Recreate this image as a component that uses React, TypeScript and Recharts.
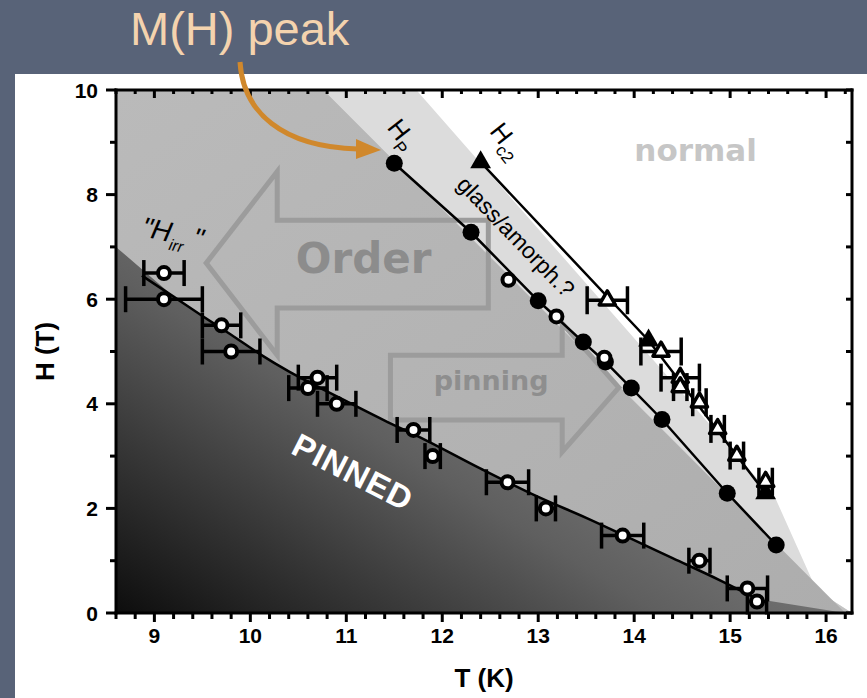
import {
  ComposedChart,
  XAxis,
  YAxis,
  Scatter,
  Line,
  Area,
  ErrorBar,
  ReferenceArea,
  ReferenceDot,
} from "recharts";

const T_MIN = 8.6;
const T_MAX = 16.27;

const xTicks = [
  8.6, 8.8, 9, 9.2, 9.4, 9.6, 9.8, 10, 10.2, 10.4, 10.6, 10.8, 11, 11.2, 11.4,
  11.6, 11.8, 12, 12.2, 12.4, 12.6, 12.8, 13, 13.2, 13.4, 13.6, 13.8, 14, 14.2,
  14.4, 14.6, 14.8, 15, 15.2, 15.4, 15.6, 15.8, 16, 16.2,
];
const yTicks = [0, 1, 2, 3, 4, 5, 6, 7, 8, 9, 10];

// "H_irr" open circles with horizontal error bars
const irrT = [9.1, 9.1, 9.7, 9.8, 10.7, 10.6, 10.9, 11.7, 11.9, 12.68, 13.08, 13.88, 14.68, 15.18, 15.28];
const irrH = [6.5, 6.0, 5.5, 5.0, 4.5, 4.3, 4.0, 3.5, 3.0, 2.5, 2.0, 1.48, 1.0, 0.47, 0.22];
const irrErr = [0.21, 0.4, 0.2, 0.3, 0.2, 0.2, 0.2, 0.17, 0.08, 0.22, 0.1, 0.22, 0.11, 0.21, 0.1];

// guide line through the H_irr points
const irrFitT = [8.87, 9.2, 9.5, 9.8, 10.1, 10.4, 10.7, 11.0, 11.4, 11.8, 12.4, 13.0, 13.5, 13.9, 14.4, 14.9, 15.28];
const irrFitH = [6.45, 6.05, 5.68, 5.32, 4.95, 4.62, 4.33, 4.05, 3.68, 3.33, 2.76, 2.22, 1.82, 1.48, 1.05, 0.62, 0.27];

// H_p (M(H) peak), filled circles
const hpT = [11.5, 12.3, 13.0, 13.47, 13.7, 13.97, 14.29, 14.97, 15.48];
const hpH = [8.6, 7.28, 5.97, 5.18, 4.8, 4.3, 3.7, 2.29, 1.3];
// open circles lying on H_p
const hpOpenT = [12.69, 13.19, 13.69];
const hpOpenH = [6.37, 5.67, 4.88];

// H_c2, filled and open triangles
const hc2T = [12.4, 14.15, 15.37];
const hc2H = [8.62, 5.21, 2.29];
const hc2OpenT = [13.72, 14.28, 14.48, 14.48, 14.68, 14.87, 15.07, 15.37];
const hc2OpenH = [5.98, 5.0, 4.5, 4.32, 4.03, 3.52, 3.01, 2.51];
const hc2OpenErr = [0.21, 0.21, 0.2, 0.07, 0.07, 0.07, 0.07, 0.07];

// upper edges of the shaded phase regions
const glassEdgeT = [8.6, 11.73, 15.48, 15.9, 16.27];
const glassEdgeH = [10, 10, 2.16, 0.44, 0];
const tailEdgeT = [8.6, 10.76, 15.48, 15.8, 16.27];
const tailEdgeH = [10, 10, 1.33, 0.55, 0];
const orderEdgeT = [8.6, 10.76, 16.2];
const orderEdgeH = [10, 10, 0];
const pinnedEdgeT = [8.6, 9.2, 9.5, 9.8, 10.1, 10.4, 10.7, 11.0, 11.4, 11.8, 12.4, 13.0, 13.5, 13.9, 14.4, 14.9, 15.28, 16.1, 16.27];
const pinnedEdgeH = [7.0, 6.05, 5.68, 5.32, 4.95, 4.62, 4.33, 4.05, 3.68, 3.33, 2.76, 2.22, 1.82, 1.48, 1.05, 0.62, 0.27, 0.03, 0];

// outline arrows (T, H corners)
const orderArrow = [[9.54, 6.69], [10.28, 8.44], [10.28, 7.51], [12.48, 7.51], [12.48, 5.83], [10.28, 5.83], [10.28, 4.93]];
const pinningArrow = [[13.84, 4.31], [13.25, 5.54], [13.25, 4.93], [11.46, 4.93], [11.46, 3.69], [13.25, 3.69], [13.25, 3.08]];

const FONT = '"Liberation Sans", Arial, sans-serif';
const WIDE = '"DejaVu Sans", Verdana, sans-serif';

const rows = (ts: number[], hs: number[], es?: number[]) =>
  ts.map((T, i) => (es ? { T, H: hs[i], e: es[i] } : { T, H: hs[i] }));

const isInt = (v: number) => Math.abs(v - Math.round(v)) < 1e-6;

const BottomTick = (p: any) => {
  const v = p.payload.value;
  const major = isInt(v);
  return (
    <g>
      <line x1={p.x} y1={p.y} x2={p.x} y2={p.y + (major ? 9 : 6)} stroke="#000" strokeWidth={3} />
      {major && (
        <text x={p.x} y={p.y + 30} textAnchor="middle" fontSize={21} fontWeight="bold" fontFamily={FONT} fill="#000">
          {Math.round(v)}
        </text>
      )}
    </g>
  );
};

const TopTick = (p: any) => {
  const major = isInt(p.payload.value);
  return <line x1={p.x} y1={p.y} x2={p.x} y2={p.y + (major ? 8 : 4)} stroke="#000" strokeWidth={3} />;
};

const LeftTick = (p: any) => {
  const v = p.payload.value;
  const major = v % 2 === 0;
  return (
    <g>
      <line x1={p.x} y1={p.y} x2={p.x - (major ? 10 : 6)} y2={p.y} stroke="#000" strokeWidth={3} />
      {major && (
        <text x={p.x - 18} y={p.y} dy="0.36em" textAnchor="end" fontSize={21} fontWeight="bold" fontFamily={FONT} fill="#000">
          {v}
        </text>
      )}
    </g>
  );
};

const RightTick = (p: any) => (
  <line x1={p.x} y1={p.y} x2={p.x - 6} y2={p.y} stroke="#000" strokeWidth={3} />
);

const FilledDot = (p: any) => <circle cx={p.cx} cy={p.cy} r={8.5} fill="#000" />;
const OpenDot = (p: any) => (
  <circle cx={p.cx} cy={p.cy} r={6} fill="#fff" stroke="#000" strokeWidth={4} />
);
const tri = (cx: number, cy: number, h: number) => {
  const w = h / Math.sqrt(3);
  return `${cx},${cy - (2 * h) / 3} ${cx + w},${cy + h / 3} ${cx - w},${cy + h / 3}`;
};
const FilledTri = (p: any) => <polygon points={tri(p.cx, p.cy, 18)} fill="#000" />;
const OpenTri = (p: any) => (
  <polygon points={tri(p.cx, p.cy, 14)} fill="#fff" stroke="#000" strokeWidth={3.5} strokeLinejoin="round" />
);

const arrowArea = (key: string, pts: number[][]) => {
  const ts = pts.map((q) => q[0]);
  const hs = pts.map((q) => q[1]);
  const t0 = Math.min(...ts);
  const t1 = Math.max(...ts);
  const h0 = Math.min(...hs);
  const h1 = Math.max(...hs);
  return (
    <ReferenceArea
      key={key}
      x1={t0}
      x2={t1}
      y1={h0}
      y2={h1}
      ifOverflow="visible"
      shape={(p: any) => (
        <polygon
          points={pts
            .map((q) => `${p.x + ((q[0] - t0) / (t1 - t0)) * p.width},${p.y + ((h1 - q[1]) / (h1 - h0)) * p.height}`)
            .join(" ")}
          fill="none"
          stroke="#9c9c9c"
          strokeWidth={5}
        />
      )}
    />
  );
};

const note = (key: string, T: number, H: number, draw: (x: number, y: number) => any) => (
  <ReferenceDot key={key} x={T} y={H} r={1} ifOverflow="visible" shape={(p: any) => draw(p.cx, p.cy)} />
);

const App = () => {
  return (
    <div style={{ position: "absolute", left: 0, top: 0, width: 867, height: 698, background: "#586378", overflow: "hidden" }}>
      <div style={{ position: "absolute", left: 15, top: 74, right: 0, bottom: 0, background: "#fff" }} />
      <div style={{ position: "absolute", left: 0, top: 0 }}>
        <ComposedChart width={867} height={698} margin={{ top: 89, right: 14, bottom: 5, left: 10 }}>
          <defs>
            <linearGradient id="pinnedGrad" x1="0" y1="1" x2="1" y2="0.2">
              <stop offset="0" stopColor="#0d0d0d" />
              <stop offset="0.45" stopColor="#5f5f5f" />
              <stop offset="1" stopColor="#a0a0a0" />
            </linearGradient>
            <linearGradient id="orderGrad" x1="0" y1="0" x2="1" y2="1">
              <stop offset="0" stopColor="#bababa" />
              <stop offset="1" stopColor="#adadad" />
            </linearGradient>
          </defs>

          <Area data={rows(glassEdgeT, glassEdgeH)} dataKey="H" type="linear" stroke="none" fill="#dcdcdc" fillOpacity={1} isAnimationActive={false} activeDot={false} />
          <Area data={rows(tailEdgeT, tailEdgeH)} dataKey="H" type="linear" stroke="none" fill="#c3c3c3" fillOpacity={1} isAnimationActive={false} activeDot={false} />
          <Area data={rows(orderEdgeT, orderEdgeH)} dataKey="H" type="linear" stroke="none" fill="url(#orderGrad)" fillOpacity={1} isAnimationActive={false} activeDot={false} />
          <Area data={rows(pinnedEdgeT, pinnedEdgeH)} dataKey="H" type="linear" stroke="none" fill="url(#pinnedGrad)" fillOpacity={1} isAnimationActive={false} activeDot={false} />

          {arrowArea("order", orderArrow)}
          {arrowArea("pinning", pinningArrow)}

          {note("order-t", 11.18, 6.79, (x, y) => (
            <text x={x} y={y} dy="0.36em" textAnchor="middle" fontSize={42} fontWeight="bold" fontFamily={WIDE} fill="#8c8c8c">Order</text>
          ))}
          {note("pinning-t", 12.51, 4.36, (x, y) => (
            <text x={x} y={y} dy="0.2em" textAnchor="middle" fontSize={27} fontWeight="bold" fontFamily={WIDE} fill="#8e8e8e">pinning</text>
          ))}
          {note("normal-t", 14.64, 8.85, (x, y) => (
            <text x={x} y={y} dy="0.36em" textAnchor="middle" fontSize={31} fontWeight="bold" fontFamily={WIDE} fill="#c6c6c6">normal</text>
          ))}

          <Line data={rows(irrFitT, irrFitH)} dataKey="H" type="monotone" stroke="#000" strokeWidth={2.5} dot={false} activeDot={false} isAnimationActive={false} />
          <Line data={rows(hpT, hpH)} dataKey="H" type="linear" stroke="#000" strokeWidth={2.5} dot={false} activeDot={false} isAnimationActive={false} />
          <Line data={rows(hc2T, hc2H)} dataKey="H" type="linear" stroke="#000" strokeWidth={2.5} dot={false} activeDot={false} isAnimationActive={false} />

          <Scatter data={rows(irrT, irrH, irrErr)} dataKey="H" shape={OpenDot} isAnimationActive={false}>
            <ErrorBar dataKey="e" direction="x" width={13} stroke="#000" strokeWidth={3.5} />
          </Scatter>
          <Scatter data={rows(hpT, hpH)} dataKey="H" shape={FilledDot} isAnimationActive={false} />
          <Scatter data={rows(hpOpenT, hpOpenH)} dataKey="H" shape={OpenDot} isAnimationActive={false} />
          <Scatter data={rows(hc2T, hc2H)} dataKey="H" shape={FilledTri} isAnimationActive={false} />
          <Scatter data={rows(hc2OpenT, hc2OpenH, hc2OpenErr)} dataKey="H" shape={OpenTri} isAnimationActive={false}>
            <ErrorBar dataKey="e" direction="x" width={14} stroke="#000" strokeWidth={3.5} />
          </Scatter>

          {note("pinned-t", 11.07, 2.7, (x, y) => (
            <text x={x} y={y} dy="0.36em" textAnchor="middle" fontSize={33} fontWeight="bold" letterSpacing={1} fontFamily={FONT} fill="#fff" transform={`rotate(27 ${x} ${y})`}>PINNED</text>
          ))}
          {note("glass-t", 12.77, 7.2, (x, y) => (
            <text x={x} y={y} dy="0.36em" textAnchor="middle" fontSize={23} fontFamily={FONT} fill="#000" transform={`rotate(46 ${x} ${y})`}>glass/amorph.?</text>
          ))}
          {note("hp-t", 11.59, 9.16, (x, y) => (
            <text x={x} y={y} dy="0.36em" textAnchor="middle" fontSize={26} fontFamily={FONT} fill="#000" transform={`rotate(52 ${x} ${y})`}>
              H<tspan fontSize={17} dy={7}>P</tspan>
            </text>
          ))}
          {note("hc2-t", 12.68, 9.04, (x, y) => (
            <text x={x} y={y} dy="0.36em" textAnchor="middle" fontSize={26} fontFamily={FONT} fill="#000" transform={`rotate(52 ${x} ${y})`}>
              H<tspan fontSize={17} dy={7}>c2</tspan>
            </text>
          ))}
          {note("hirr-t", 9.19, 7.28, (x, y) => (
            <text x={x} y={y} dy="0.36em" textAnchor="middle" fontSize={28} fontStyle="italic" fontFamily={FONT} fill="#000" transform={`rotate(12 ${x} ${y})`}>
              "H<tspan fontSize={16} dy={8}>irr</tspan>
              <tspan dy={-8}> "</tspan>
            </text>
          ))}

          <XAxis
            dataKey="T"
            type="number"
            domain={[T_MIN, T_MAX]}
            allowDataOverflow
            ticks={xTicks}
            interval={0}
            tickSize={0}
            tickMargin={0}
            tickLine={false}
            tick={BottomTick}
            axisLine={{ stroke: "#000", strokeWidth: 3, strokeLinecap: "square" }}
            height={80}
            label={{ value: "T (K)", position: "insideBottom", offset: 6, fontSize: 26, fontWeight: "bold", fill: "#000", fontFamily: FONT }}
          />
          <XAxis
            xAxisId="top"
            orientation="top"
            dataKey="T"
            type="number"
            domain={[T_MIN, T_MAX]}
            allowDataOverflow
            ticks={xTicks}
            interval={0}
            tickSize={0}
            tickMargin={0}
            tickLine={false}
            tick={TopTick}
            axisLine={{ stroke: "#000", strokeWidth: 3, strokeLinecap: "square" }}
            height={1}
          />
          <YAxis
            dataKey="H"
            type="number"
            domain={[0, 10]}
            allowDataOverflow
            ticks={yTicks}
            interval={0}
            tickSize={0}
            tickMargin={0}
            tickLine={false}
            tick={LeftTick}
            axisLine={{ stroke: "#000", strokeWidth: 3, strokeLinecap: "square" }}
            width={106}
            label={{ value: "H (T)", angle: -90, position: "insideLeft", offset: 35, style: { textAnchor: "middle" }, fontSize: 26, fontWeight: "bold", fill: "#000", fontFamily: FONT }}
          />
          <YAxis
            yAxisId="right"
            orientation="right"
            dataKey="H"
            type="number"
            domain={[0, 10]}
            allowDataOverflow
            ticks={yTicks}
            interval={0}
            tickSize={0}
            tickMargin={0}
            tickLine={false}
            tick={RightTick}
            axisLine={{ stroke: "#000", strokeWidth: 3, strokeLinecap: "square" }}
            width={1}
          />
        </ComposedChart>
      </div>
      <svg width={867} height={698} style={{ position: "absolute", left: 0, top: 0, pointerEvents: "none" }}>
        <text x={130} y={45} fontSize={47} fontFamily={FONT} fill="#f4d3ae">M(H) peak</text>
        <path d="M 240 62 C 243 112, 282 147, 358 149" fill="none" stroke="#d0882c" strokeWidth={5} />
        <polygon points="381,150 356,139 356,159" fill="#d0882c" />
      </svg>
    </div>
  );
};

export default App;
